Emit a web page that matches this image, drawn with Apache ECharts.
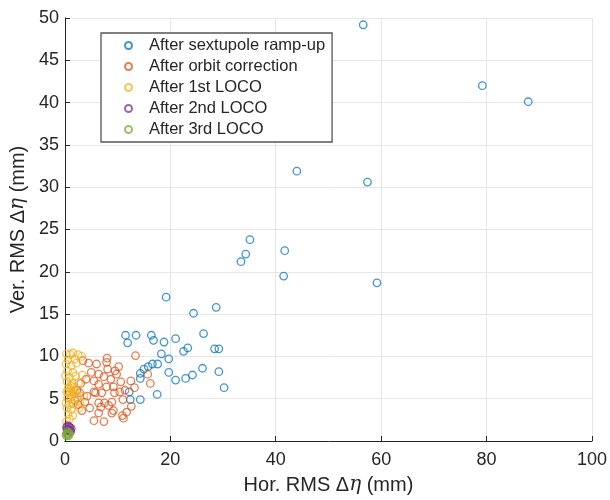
<!DOCTYPE html>
<html>
<head>
<meta charset="utf-8">
<script src="https://cdn.jsdelivr.net/npm/echarts@6/dist/echarts.min.js"></script>
<style>html,body{margin:0;padding:0;background:#fff}#c{width:610px;height:500px}</style>
</head>
<body>
<div id="c"></div>
<script>
const seriesNames = ['After sextupole ramp-up','After orbit correction','After 1st LOCO','After 2nd LOCO','After 3rd LOCO'];
const xTicks = [0,20,40,60,80,100];
const yTicks = [0,5,10,15,20,25,30,35,40,45,50];

const sextupole = [[56.6,49.2],[79.2,42.0],[87.9,40.1],[44.0,31.9],[57.4,30.6],[35.1,23.8],[34.3,22.1],[33.4,21.2],[41.7,22.5],[41.5,19.5],[59.2,18.7],[28.7,15.8],[24.4,15.1],[19.2,17.0],[26.3,12.7],[11.5,12.5],[13.5,12.5],[16.4,12.5],[11.9,11.6],[16.8,11.9],[18.8,11.7],[21.0,12.1],[22.5,10.6],[23.3,11.0],[28.4,10.9],[29.2,10.9],[18.3,10.3],[19.7,9.7],[17.6,9.1],[16.6,9.1],[15.8,8.8],[15.0,8.5],[14.3,8.0],[26.1,8.6],[29.2,8.2],[19.7,8.1],[24.2,7.8],[22.9,7.4],[21.0,7.2],[14.3,7.4],[30.2,6.3],[12.2,5.8],[17.5,5.5],[12.4,4.9],[14.3,4.9]];
const orbit = [[13.4,10.1],[8.0,9.8],[7.9,9.3],[4.5,9.2],[3.4,9.5],[10.2,8.8],[8.1,8.5],[6.4,7.9],[9.8,7.9],[7.4,7.6],[5.5,7.1],[8.7,7.3],[10.6,7.0],[12.5,7.1],[15.7,7.9],[16.2,6.8],[6.4,6.7],[7.9,6.4],[9.2,6.4],[13.2,6.3],[5.5,5.8],[7.0,5.7],[5.8,5.7],[9.4,5.7],[10.4,5.8],[11.4,6.0],[3.8,4.6],[6.4,4.5],[7.5,4.5],[8.3,4.2],[6.8,4.0],[4.7,3.9],[8.9,3.3],[12.6,4.1],[11.7,3.4],[11.1,2.7],[10.9,3.0],[5.5,2.4],[7.4,2.3],[6.4,3.3],[3.2,3.6],[1.9,4.8],[2.8,5.7],[2.3,6.0],[9.2,3.6],[8.9,4.6],[4.0,7.3],[3.0,6.8],[5.0,8.1],[11.0,4.9],[2.5,4.3],[4.2,5.3],[6.0,9.1],[9.5,8.3]];
const loco1 = [[0.3,10.3],[1.0,10.2],[1.5,10.4],[2.5,10.2],[3.2,10.0],[0.6,9.6],[1.8,9.7],[0.2,9.1],[1.2,8.9],[2.2,9.2],[0.5,8.3],[1.5,8.1],[0.1,7.7],[0.9,7.5],[2.0,7.7],[3.3,7.8],[0.4,7.0],[1.3,6.8],[2.6,6.9],[0.7,6.3],[1.1,6.1],[1.6,5.9],[0.3,5.8],[0.9,5.5],[1.4,5.3],[1.9,5.6],[0.5,5.1],[1.1,4.9],[2.3,5.1],[0.2,4.5],[0.8,4.3],[1.6,4.4],[0.4,3.9],[1.2,3.7],[2.7,3.9],[0.6,3.2],[1.5,3.0],[0.9,2.6],[0.3,2.3],[1.2,6.5],[0.6,5.8],[1.7,6.3],[2.0,5.9],[1.0,5.8],[3.6,5.3],[2.9,4.5]];
const loco2 = [[0.5,1.8],[0.9,1.6],[0.4,1.4],[1.0,1.3],[0.6,1.2],[0.8,1.7],[1.2,1.5],[0.3,1.6],[0.7,1.3],[1.1,1.1]];
const loco3 = [[0.4,0.9],[0.6,0.7],[0.3,0.6],[0.8,0.9],[0.5,1.1],[0.2,0.8],[0.7,0.6],[0.5,0.8]];

const colors = ['#0072BD','#D95319','#EDB120','#7E2F8E','#77AC30'];
const allData = [sextupole, orbit, loco1, loco2, loco3];

const chart = echarts.init(document.getElementById('c'), null, {renderer:'canvas'});
const font = 'Liberation Sans, Arial, Helvetica, sans-serif';
const richI = {i: {fontFamily: 'DejaVu Serif', fontStyle: 'italic', fontSize: 20, color: '#262626'}};
chart.setOption({
  animation: false,
  backgroundColor: '#fff',
  grid: {left: 63, right: 18, top: 18, bottom: 59, containLabel: false},
  legend: {
    orient: 'vertical', left: 101, top: 33,
    padding: [4, 7, 4, 23],
    itemGap: 4, itemWidth: 7, itemHeight: 7, icon: 'circle',
    borderColor: '#555', borderWidth: 1.3, backgroundColor: '#fff',
    textStyle: {fontFamily: font, fontSize: 16.5, color: '#262626', lineHeight: 17, padding: [0,0,0,12]},
    data: seriesNames
  },
  xAxis: {
    type: 'value', min: 0, max: 100, interval: 20,
    name: 'Hor. RMS Δ{i|η} (mm)', nameLocation: 'middle', nameGap: 34,
    nameTextStyle: {fontFamily: font, fontSize: 20, color: '#262626', rich: richI},
    axisLine: {show: true, lineStyle: {color: '#262626', width: 1}},
    axisTick: {show: true, inside: true, length: 5, lineStyle: {color: '#262626'}},
    axisLabel: {fontFamily: font, fontSize: 18, color: '#262626', margin: 10,
      formatter: v => xTicks.includes(v) ? String(v) : ''},
    splitLine: {show: true, lineStyle: {color: '#e6e6e6', width: 1}}
  },
  yAxis: {
    type: 'value', min: 0, max: 50, interval: 5,
    name: 'Ver. RMS Δ{i|η} (mm)', nameLocation: 'middle', nameGap: 32, nameRotate: 90,
    nameTextStyle: {fontFamily: font, fontSize: 20, color: '#262626', rich: richI},
    axisLine: {show: true, lineStyle: {color: '#262626', width: 1}},
    axisTick: {show: true, inside: true, length: 5, lineStyle: {color: '#262626'}},
    axisLabel: {fontFamily: font, fontSize: 18, color: '#262626', margin: 6,
      formatter: v => yTicks.includes(v) ? String(v) : ''},
    splitLine: {show: true, lineStyle: {color: '#e6e6e6', width: 1}}
  },
  series: allData.map((d, i) => ({
    name: seriesNames[i], type: 'scatter', data: d,
    symbol: 'circle', symbolSize: 7.5,
    itemStyle: {color: 'rgba(255,255,255,0)', borderColor: colors[i], borderWidth: 1.3, opacity: 0.75},
    emphasis: {disabled: true}
  }))
});
</script>
</body>
</html>
